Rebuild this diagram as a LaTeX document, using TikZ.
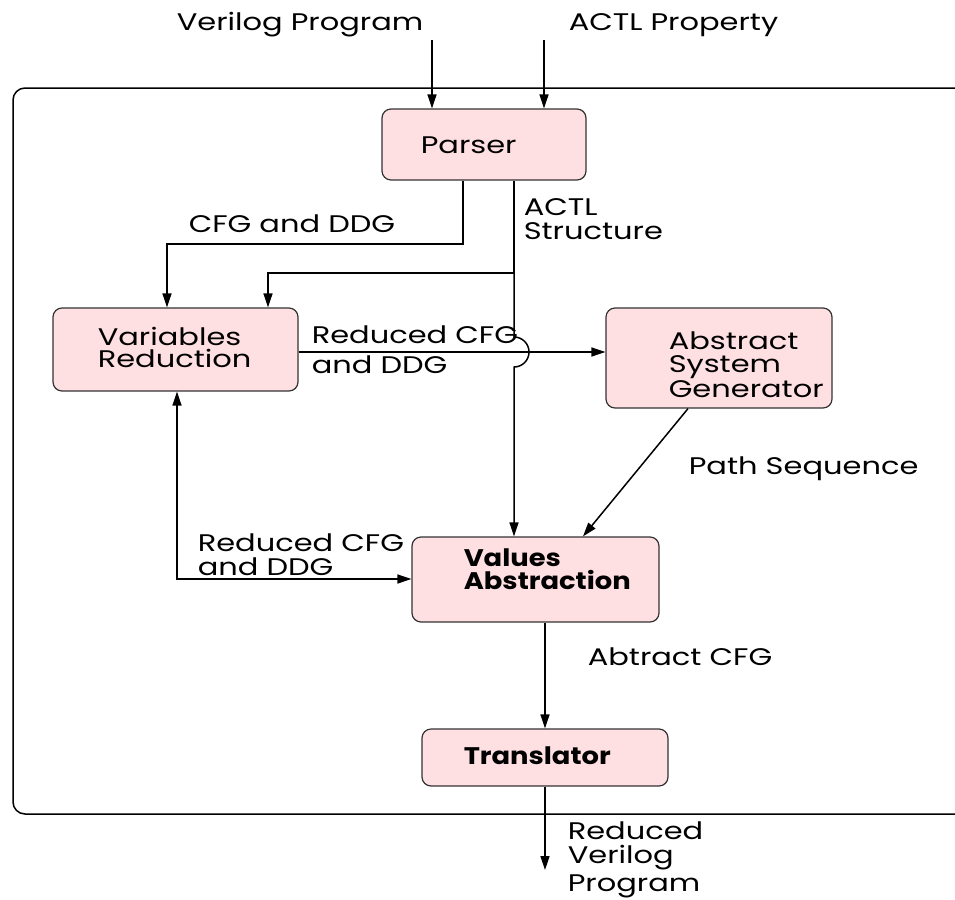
\documentclass[tikz,border=0pt]{standalone}
\usepackage{fontspec}
\setmainfont{Poppins}[FakeStretch=1.27, BoldFeatures={FakeStretch=1.14}]
\usetikzlibrary{arrows.meta,calc}
\definecolor{boxpink}{RGB}{255,224,226}
\begin{document}
\begin{tikzpicture}[x=1pt,y=-1pt,
  font=\fontsize{24}{22}\selectfont,
  line width=1.5pt,
  arr/.style={-{Triangle[length=14pt,width=9pt]}},
  dblarr/.style={{Triangle[length=14pt,width=9pt]}-{Triangle[length=14pt,width=9pt]}},
  box/.style={draw=black!80, fill=boxpink, rounded corners=9pt, line width=1.2pt, inner sep=0pt},
  txt/.style={anchor=base west, inner sep=0pt, align=left},
  bold/.style={font=\fontsize{24}{22}\selectfont\bfseries},
]
\useasboundingbox (0,0) rectangle (955,899);

% enclosing frame (open to the right)
\draw[rounded corners=12pt] (985,88) -- (13,88) -- (13,814) -- (985,814);

% processing stages
\node[box, minimum width=204pt, minimum height=71pt] (parser) at (484,144.5) {};
\node[box, minimum width=245pt, minimum height=83pt] (varred) at (175.5,349.5) {};
\node[box, minimum width=226pt, minimum height=100pt] (absgen) at (719,358) {};
\node[box, minimum width=247pt, minimum height=85pt] (valabs) at (535.5,579.5) {};
\node[box, minimum width=246pt, minimum height=57pt] (trans) at (545,757.5) {};

% stage captions (base anchor = baseline of the last line)
\node[txt] (parsertx) at (420,153) {Parser};
\node[txt] (varredtx) at (97,367) {Variables\\Reduction};
\node[txt] (absgentx) at (668,397) {Abstract\\[0.5pt]System\\[0.5pt]Generator};
\node[txt, bold] (valabstx) at (463,589) {Values\\[1pt]Abstraction};
\node[txt, bold] (transtx) at (463,764) {Translator};

% routing points
\coordinate (vin) at (432,40);
\coordinate (ain) at (544,40);
\coordinate (cfgx) at (463,244);
\coordinate (cfgl) at (167,244);
\coordinate (actx) at (514,273);
\coordinate (actl) at (268,273);
\coordinate (hop) at (514,352);
\coordinate (fbx) at (177,579);
\coordinate (outend) at (545,870);

% inputs
\node[txt] (vinlbl) at (176,31) {Verilog Program};
\node[txt] (ainlbl) at (568,31) {ACTL Property};
\draw[arr] (vin) -- (vin |- parser.north);
\draw[arr] (ain) -- (ain |- parser.north);

% parser outputs
\draw[arr] (parser.south -| cfgx) -- (cfgx) -- (cfgl) -- (cfgl |- varred.north);
\draw (parser.south -| actx) -- (actx);
\draw[arr] (actx) -- (actl) -- (actl |- varred.north);
\draw[arr] (actx) -- ($(hop)+(0,-15)$) arc[start angle=-90, end angle=90, radius=15]
  -- (actx |- valabs.north);
\node[txt] (cfglbl) at (188,232) {CFG and DDG};
\node[txt] (actllbl) at (523,239) {ACTL\\[2pt]Structure};

% reduced model to the generator
\draw[arr] (varred.east |- hop) -- (absgen.west |- hop);
\node[txt] (redlbl1) at (311,373) {Reduced CFG\\[8pt]and DDG};

% path sequence
\draw[arr] ($(absgen.south)+(-31,0)$) -- ($(valabs.north)+(47.5,0)$);
\node[txt] (pathlbl) at (688,474) {Path Sequence};

% feedback between reduction and abstraction
\draw[dblarr] (varred.south -| fbx) -- (fbx) -- (valabs.west |- fbx);
\node[txt] (redlbl2) at (197,575) {Reduced CFG\\[2pt]and DDG};

% abstraction to translator and output
\draw[arr] (valabs.south -| trans.north) -- (trans.north);
\node[txt] (abslbl) at (587,665) {Abtract CFG};
\draw[arr] (trans.south) -- (outend);
\node[txt] (outlbl) at (567,891) {Reduced\\[2pt]Verilog\\[3pt]Program};
\end{tikzpicture}
\end{document}
